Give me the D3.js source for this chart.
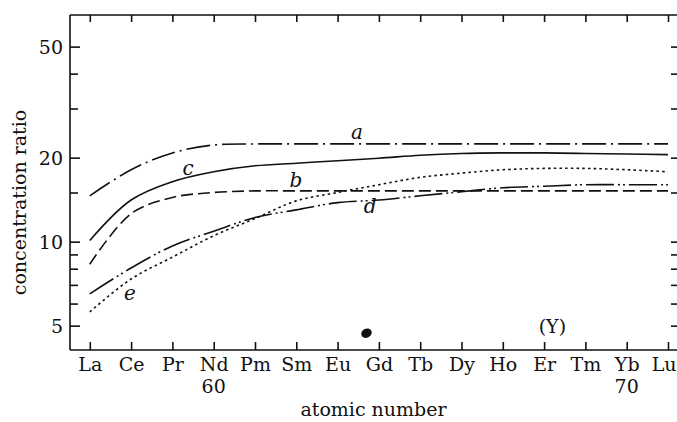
<!DOCTYPE html>
<html>
<head>
<meta charset="utf-8">
<script src="https://cdn.jsdelivr.net/npm/d3@7"></script>
<style>
  html, body { margin: 0; padding: 0; background: #fff; }
  svg { display: block; }
  text { font-family: "DejaVu Serif", "Liberation Serif", serif; fill: #111; }
</style>
</head>
<body>
<svg id="chart" width="677" height="422"></svg>
<script>
// Lanthanide series along the x axis
const elements = ["La","Ce","Pr","Nd","Pm","Sm","Eu","Gd","Tb","Dy","Ho","Er","Tm","Yb","Lu"];
// atomic numbers printed under Nd and Yb
const atomicMarks = [{ idx: 3, label: "60" }, { idx: 13, label: "70" }];

// concentration ratio for each curve, one value per element
const seriesA = [14.6, 18.1, 20.8, 22.2, 22.4, 22.4, 22.4, 22.4, 22.4, 22.4, 22.4, 22.4, 22.4, 22.4, 22.4];
const seriesB = [8.3, 12.6, 14.4, 15.0, 15.2, 15.2, 15.2, 15.2, 15.2, 15.2, 15.2, 15.2, 15.2, 15.2, 15.2];
const seriesC = [10.1, 14.1, 16.4, 17.8, 18.7, 19.1, 19.5, 19.9, 20.4, 20.7, 20.8, 20.8, 20.7, 20.6, 20.5];
const seriesD = [6.5, 8.05, 9.65, 10.9, 12.2, 13.0, 13.8, 14.1, 14.6, 15.1, 15.6, 15.8, 16.0, 16.0, 16.0];
const seriesE = [5.6, 7.35, 8.8, 10.5, 12.1, 14.0, 15.0, 16.0, 17.0, 17.6, 18.1, 18.3, 18.3, 18.1, 17.8];
const seriesNames = ["a", "b", "c", "d", "e"];

// y axis ticks (log scale); only some carry a label
const yTicks = [5, 6, 7, 8, 9, 10, 15, 20, 30, 40, 50];
const yLabelled = [5, 10, 20, 50];
const yDomain = [4.09, 64.9];

// where each curve's letter sits: element index and ratio
const letterIdx = [6.47, 4.99, 2.38, 6.79, 0.97];
const letterVal = [23.3, 15.7, 17.3, 12.7, 6.18];

const W = 677, H = 422;
const plotLeft = 70, plotRight = 678, plotTop = 15, plotBottom = 350;

const svg = d3.select("#chart");

const x = d3.scaleLinear().domain([0, elements.length - 1]).range([89.8, 668]);
const y = d3.scaleLog().domain(yDomain).range([plotBottom, plotTop]);

// dash patterns of the five curves
const dashes = ["24,5,2,5", "12,5", null, "28,4,2,3,2,4", "2.5,3.2"];
const allSeries = [seriesA, seriesB, seriesC, seriesD, seriesE];

// frame & axes
const axisG = svg.append("g").attr("stroke-width", 1.6);

const yAxis = d3.axisLeft(y)
  .tickValues(yTicks)
  .tickSizeInner(-10)
  .tickSizeOuter(0)
  .tickPadding(7)
  .tickFormat(d => yLabelled.includes(d) ? String(d) : "");
const gy = axisG.append("g").attr("transform", `translate(${plotLeft},0)`).call(yAxis);
gy.selectAll(".tick line").attr("x2", d => yLabelled.includes(d) ? 10 : 8);
gy.selectAll(".tick text").attr("font-size", 19).attr("dy", "0.36em");
gy.select(".domain").attr("d", `M0,${plotTop}V${plotBottom}`);

const yRight = d3.axisRight(y).tickValues(yTicks).tickSizeInner(-7).tickSizeOuter(0).tickFormat("");
const gyr = axisG.append("g").attr("transform", `translate(${plotRight},0)`).call(yRight);
gyr.select(".domain").remove();

const xAxis = d3.axisBottom(x)
  .tickValues(d3.range(elements.length))
  .tickSizeInner(-8)
  .tickSizeOuter(0)
  .tickFormat(i => elements[i]);
const gx = axisG.append("g").attr("transform", `translate(0,${plotBottom})`).call(xAxis);
gx.selectAll(".tick text").attr("font-size", 19).attr("y", 21).attr("dy", 0);
// keep the last label inside the page edge
gx.selectAll(".tick text").filter(i => i === elements.length - 1)
  .attr("text-anchor", "end").attr("x", W - 1 - x(elements.length - 1));
gx.select(".domain").attr("d", `M${plotLeft},0H${W}`);

const xTop = d3.axisTop(x).tickValues(d3.range(elements.length)).tickSizeInner(-7).tickSizeOuter(0).tickFormat("");
const gxt = axisG.append("g").attr("transform", `translate(0,${plotTop})`).call(xTop);
gxt.select(".domain").attr("d", `M${plotLeft},0H${W}`);

axisG.selectAll("path.domain").attr("stroke", "#111");
axisG.selectAll(".tick line").attr("stroke", "#111");

// atomic numbers and axis titles
svg.append("g").selectAll("text").data(atomicMarks).join("text")
  .attr("x", d => x(d.idx)).attr("y", plotBottom + 43)
  .attr("text-anchor", "middle").attr("font-size", 19)
  .text(d => d.label);

svg.append("text")
  .attr("x", (plotLeft + W) / 2).attr("y", plotBottom + 66)
  .attr("text-anchor", "middle").attr("font-size", 19)
  .text("atomic number");

svg.append("text")
  .attr("transform", `translate(26,${(plotTop + plotBottom) / 2 + 20}) rotate(-90)`)
  .attr("text-anchor", "middle").attr("font-size", 19)
  .text("concentration ratio");

// curves
const line = d3.line()
  .x((d, i) => x(i))
  .y(d => y(d))
  .curve(d3.curveCatmullRom.alpha(0.5));

svg.append("g").selectAll("path").data(allSeries).join("path")
  .attr("d", d => line(d))
  .attr("fill", "none")
  .attr("stroke", "#111")
  .attr("stroke-width", 1.6)
  .attr("stroke-dasharray", (d, i) => dashes[i]);

// curve letters
svg.append("g").selectAll("text").data(seriesNames).join("text")
  .attr("x", (d, i) => x(letterIdx[i]))
  .attr("y", (d, i) => y(letterVal[i]))
  .attr("text-anchor", "middle")
  .attr("font-size", 20)
  .attr("font-style", "italic")
  .text(d => d);

// element tag
svg.append("text")
  .attr("x", x(11.2)).attr("y", y(5.0) + 7)
  .attr("text-anchor", "middle").attr("font-size", 19)
  .text("(Y)");

// ink spot below the Eu–Gd region
svg.append("ellipse")
  .attr("cx", x(6.7)).attr("cy", y(4.7))
  .attr("rx", 5.5).attr("ry", 4.5)
  .attr("transform", `rotate(-30,${x(6.7)},${y(4.7)})`)
  .attr("fill", "#111");
</script>
</body>
</html>
